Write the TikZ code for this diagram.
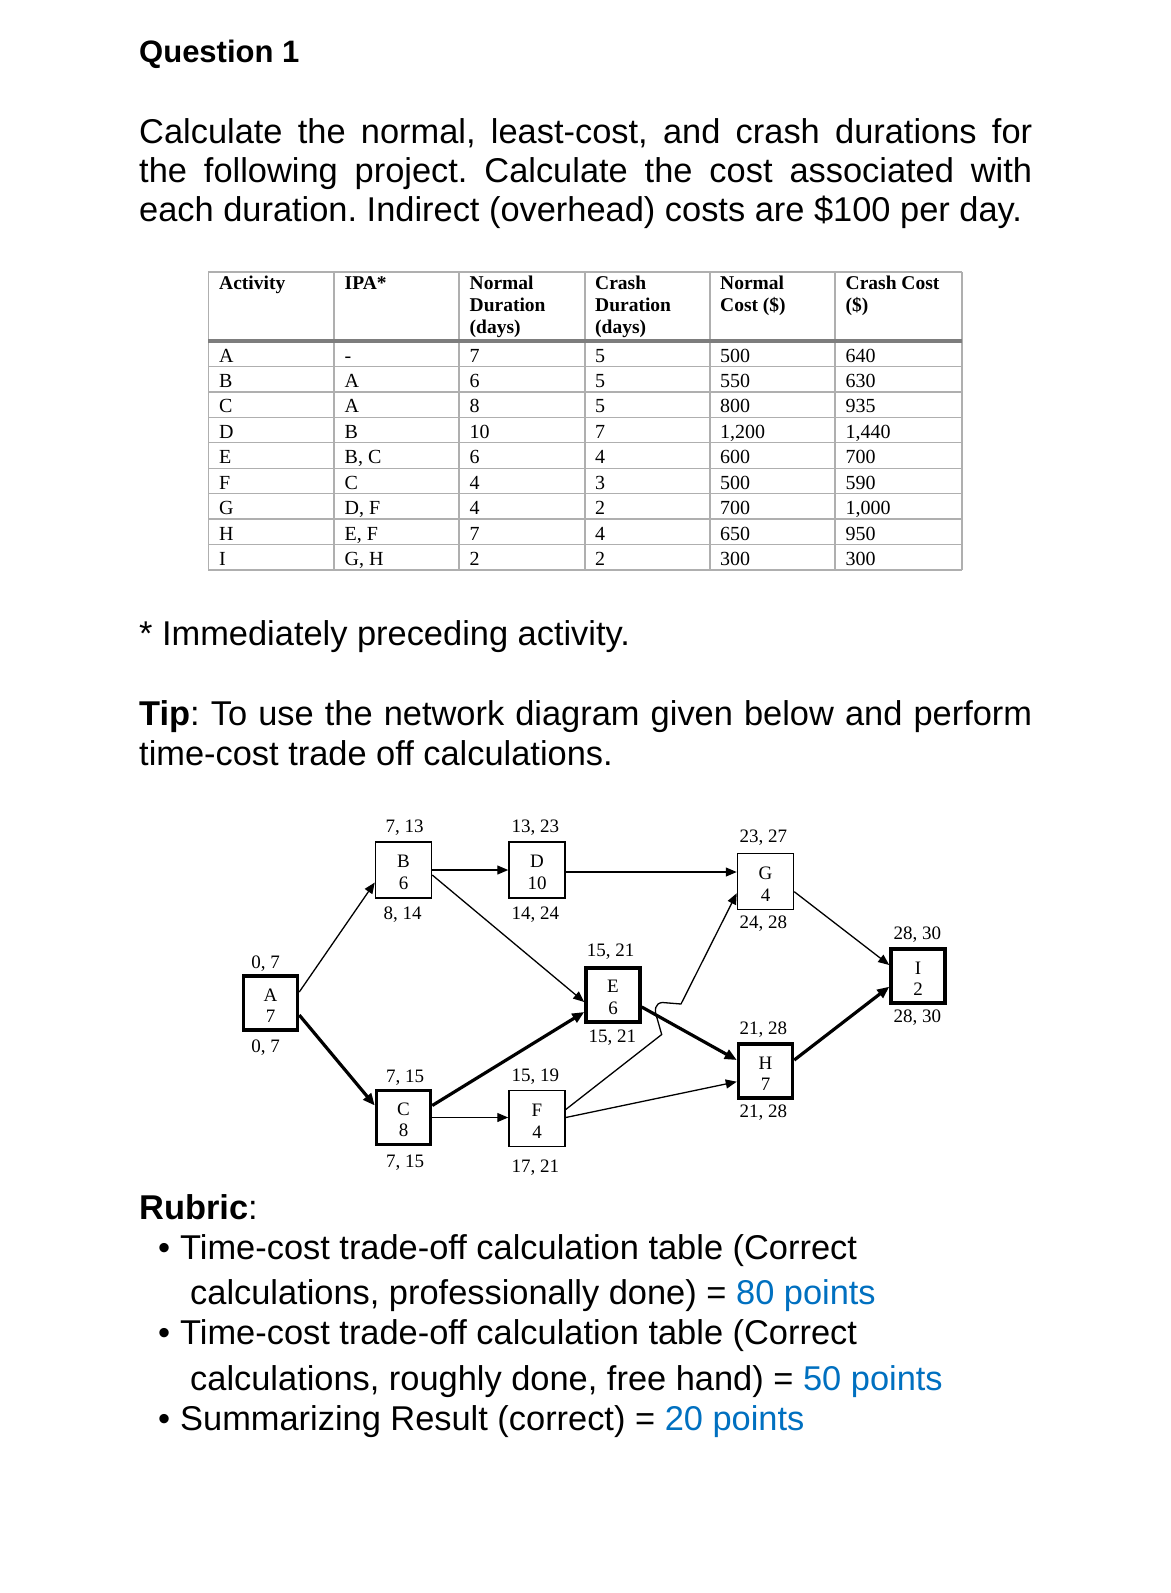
\documentclass[tikz,border=0pt]{standalone}
\usepackage{fontspec}
\setmainfont{Liberation Sans}
\newfontfamily\tms{Liberation Serif}
\usetikzlibrary{arrows.meta,calc}
\definecolor{ptblue}{RGB}{0,112,192}
\definecolor{tgrid}{RGB}{175,175,175}
\definecolor{thdr}{RGB}{125,125,125}
\frenchspacing
\begin{document}
\begin{tikzpicture}[x=1pt,y=-1pt,
  txt/.style={anchor=base west, inner sep=0pt, font=\fontsize{34.4}{40}\selectfont},
  tcell/.style={anchor=base west, inner sep=0pt, font=\tms\fontsize{20}{22}\selectfont},
  thead/.style={anchor=north west, inner sep=0pt, align=left, font=\tms\bfseries\fontsize{19.5}{21.7}\selectfont},
  actbox/.style={draw, line width=1.5pt, minimum size=56pt, inner sep=0pt, align=center, font=\tms\fontsize{19}{21.5}\selectfont},
  crit/.style={actbox, line width=3.5pt, minimum size=54pt},
  elabel/.style={anchor=base, inner sep=0pt, font=\tms\fontsize{19}{21.5}\selectfont},
  conn/.style={line width=1.3pt, -{Triangle[length=11pt,width=9pt]}},
  critconn/.style={line width=3.2pt, -{Triangle[length=12pt,width=10pt]}},
  gridline/.style={tgrid, line width=1.4pt}
]
\fill[white] (0,0) rectangle (1170,1593);
\useasboundingbox (0,0) rectangle (1170,1593);

% ---------- heading and paragraph ----------
\node[txt, font=\bfseries\fontsize{31}{36}\selectfont] (title) at (139,62) {Question 1};
\node[txt] (p1) at (139,143.3) {\makebox[893pt][s]{Calculate the normal, least-cost, and crash durations for}};
\node[txt] (p2) at (139,182.7) {\makebox[893pt][s]{the following project. Calculate the cost associated with}};
\node[txt] (p3) at (139,221.7) {each duration. Indirect (overhead) costs are \$100 per day.};

% ---------- table ----------
\foreach \x in {208.2,334.1,459.1,585,709.9,834.8,961.8}
  \draw[gridline] (\x,272) -- (\x,570);
\draw[gridline] (208.2,272) -- (961.8,272);
\foreach \k in {1,...,9}
  \draw[gridline] (208.2,341+25.44*\k) -- (961.8,341+25.44*\k);
\draw[thdr, line width=3.4pt] (208.2,341) -- (961.8,341);

\node[thead] (h1) at (219,275.5) {\rule{0pt}{14pt}Activity};
\node[thead] (h2) at (344.5,275.5) {\rule{0pt}{14pt}IPA*};
\node[thead] (h3) at (469.5,275.5) {\rule{0pt}{14pt}Normal\\Duration\\(days)};
\node[thead] (h4) at (595,275.5) {\rule{0pt}{14pt}Crash\\Duration\\(days)};
\node[thead] (h5) at (720,275.5) {\rule{0pt}{14pt}Normal\\Cost (\$)};
\node[thead] (h6) at (845.5,275.5) {\rule{0pt}{14pt}Crash Cost\\(\$)};

\foreach \act/\ipa/\nd/\cd/\nc/\cc [count=\r] in {
  A/-/7/5/500/640,
  B/A/6/5/550/630,
  C/A/8/5/800/935,
  D/B/10/7/{1,200}/{1,440},
  E/{B, C}/6/4/600/700,
  F/C/4/3/500/590,
  G/{D, F}/4/2/700/{1,000},
  H/{E, F}/7/4/650/950,
  I/{G, H}/2/2/300/300}{
  \pgfmathsetmacro\yy{336.6+25.44*\r}
  \node[tcell] (c\r a) at (219,\yy) {\act};
  \node[tcell] (c\r b) at (344.5,\yy) {\ipa};
  \node[tcell] (c\r c) at (469.5,\yy) {\nd};
  \node[tcell] (c\r d) at (595,\yy) {\cd};
  \node[tcell] (c\r e) at (720,\yy) {\nc};
  \node[tcell] (c\r f) at (845.5,\yy) {\cc};
}

% ---------- notes ----------
\node[txt] (note) at (139,645) {* Immediately preceding activity.};
\node[txt] (tip1) at (139,725) {\makebox[893pt][s]{\textbf{Tip}: To use the network diagram given below and perform}};
\node[txt] (tip2) at (139,765) {time-cost trade off calculations.};

% ---------- network ----------
\node[crit]   (A) at (270.5,1003)  {\rule{0pt}{17.6pt}A\\7};
\node[actbox] (B) at (403.5,870)   {\rule{0pt}{17.6pt}B\\6};
\node[crit]   (C) at (403.5,1117.5){\rule{0pt}{17.6pt}C\\8};
\node[actbox] (D) at (537,870)     {\rule{0pt}{17.6pt}D\\10};
\node[actbox] (F) at (537,1118.5)  {\rule{0pt}{17.6pt}F\\4};
\node[crit]   (E) at (613,995)     {\rule{0pt}{17.6pt}E\\6};
\node[actbox] (G) at (765.5,881.7) {\rule{0pt}{17.6pt}G\\4};
\node[crit]   (H) at (765.5,1071)  {\rule{0pt}{17.6pt}H\\7};
\node[crit]   (I) at (918,976)     {\rule{0pt}{17.6pt}I\\2};

\node[elabel] (lAt) at (265.7,968.1)  {0, 7};
\node[elabel] (lAb) at (265.7,1052.5) {0, 7};
\node[elabel] (lBt) at (404.7,832.4)  {7, 13};
\node[elabel] (lBb) at (402.7,919.7)  {8, 14};
\node[elabel] (lDt) at (535.3,832.4)  {13, 23};
\node[elabel] (lDb) at (535.3,919.1)  {14, 24};
\node[elabel] (lCt) at (405,1082.5)   {7, 15};
\node[elabel] (lCb) at (405,1167.1)   {7, 15};
\node[elabel] (lFt) at (535.3,1081.4) {15, 19};
\node[elabel] (lFb) at (535.3,1172.4) {17, 21};
\node[elabel] (lEt) at (610.7,956.4)  {15, 21};
\node[elabel] (lEb) at (612.3,1042.5) {15, 21};
\node[elabel] (lGt) at (763.3,842.5)  {23, 27};
\node[elabel] (lGb) at (763.3,928.1)  {24, 28};
\node[elabel] (lHt) at (763.3,1034.7) {21, 28};
\node[elabel] (lHb) at (763.3,1117)   {21, 28};
\node[elabel] (lIt) at (917.3,939)    {28, 30};
\node[elabel] (lIb) at (917.3,1022.4) {28, 30};

\coordinate (dg) at ($(D.east)+(0,2)$);
\coordinate (j1) at (661.7,1034.5);
\coordinate (j2) at (657,1018);
\coordinate (j3) at (662.5,1002.5);
\coordinate (j4) at (681,1004);

\draw[conn] ($(A.east)+(0,-11)$) -- ($(B.west)+(0,12.5)$);
\draw[critconn] ($(A.east)+(0,12)$) -- ($(C.west)+(0,-12)$);
\draw[conn] (B.east) -- (D.west);
\draw[conn] ($(B.east)+(0,5)$) -- ($(E.west)+(0,7)$);
\draw[critconn] ($(C.east)+(0,-12)$) -- ($(E.west)+(0,17)$);
\draw[conn] (C.east) -- (C.east -| F.west);
\draw[conn] (dg) -- (dg -| G.west);
\draw[conn] ($(F.east)+(0,-9)$) -- (j1) -- (j2) .. controls (654,1010) and (655,1003) .. (j3) -- (j4) -- ($(G.west)+(0,11.5)$);
\draw[conn] ($(F.east)+(0,-1)$) -- ($(H.west)+(0,10.7)$);
\draw[critconn] ($(E.east)+(0,12)$) -- ($(H.west)+(0,-11)$);
\draw[conn] ($(G.east)+(0,10)$) -- ($(I.west)+(0,-11)$);
\draw[critconn] ($(H.east)+(0,-11)$) -- ($(I.west)+(0,10.7)$);

% ---------- rubric ----------
\node[txt] (rub) at (139,1219) {\textbf{Rubric}:};
\node[txt] (b1) at (158,1259) {\textbullet};
\node[txt] (r1) at (180,1259) {Time-cost trade-off calculation table (Correct};
\node[txt] (r1c) at (190,1304.5) {calculations, professionally done) = \textcolor{ptblue}{80 points}};
\node[txt] (b2) at (158,1344.5) {\textbullet};
\node[txt] (r2) at (180,1344.5) {Time-cost trade-off calculation table (Correct};
\node[txt] (r2c) at (190,1390) {calculations, roughly done, free hand) = \textcolor{ptblue}{50 points}};
\node[txt] (b3) at (158,1430) {\textbullet};
\node[txt] (r3) at (180,1430) {Summarizing Result (correct) = \textcolor{ptblue}{20 points}};
\end{tikzpicture}
\end{document}
